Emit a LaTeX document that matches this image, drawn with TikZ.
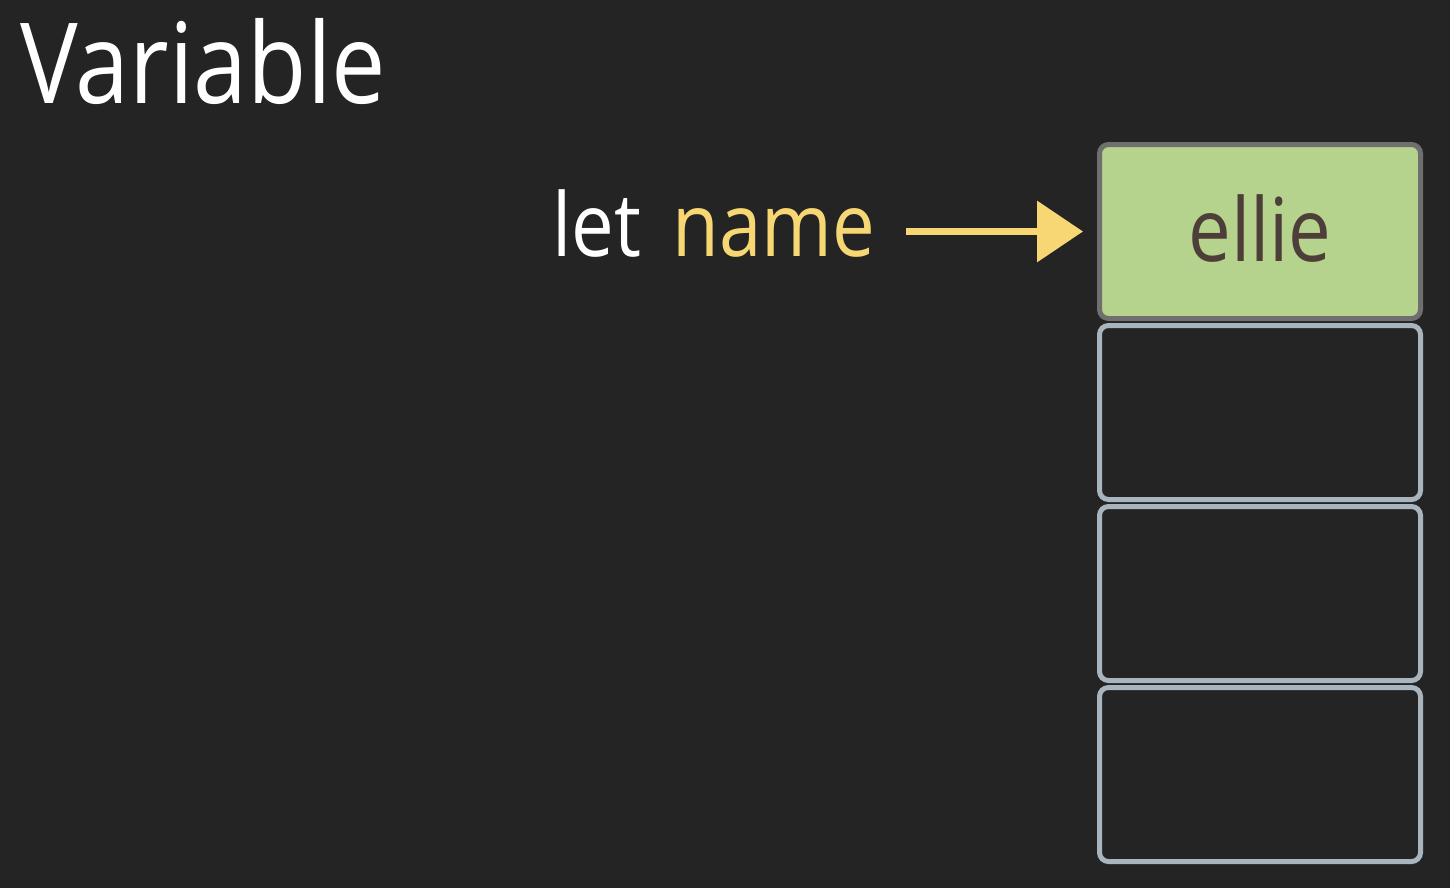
\documentclass[tikz,border=0pt]{standalone}
\usepackage{fontspec}
\setmainfont[FakeStretch=0.865]{Open Sans}
\usetikzlibrary{positioning,arrows.meta}
\definecolor{fundo}{HTML}{242424}
\definecolor{amarelo}{HTML}{F7D774}
\definecolor{verde}{HTML}{B5D38C}
\definecolor{marrom}{HTML}{4E3E39}
\definecolor{cinzaazul}{HTML}{A9B5BE}
\definecolor{cinza}{HTML}{6F6F6F}
\tikzset{
  caixa/.style={draw=cinzaazul, line width=5pt, rounded corners=9pt, minimum width=321pt, minimum height=174pt, inner sep=0pt},
  texto/.style={font=\fontsize{88}{90}\selectfont, inner sep=0pt}
}
\begin{document}
\begin{tikzpicture}[x=1pt, y=-1pt] %Início do desenho, 1 pixel = 1pt
	\useasboundingbox[fill=fundo] (0,0) rectangle (1450,888); %Fundo escuro
		%Título
	\node[anchor=base west, inner sep=0pt, text=white, font=\fontsize{112}{114}\selectfont] (titulo) at (20,103) {Variable}; %Título
		%Memória
	\node[caixa, fill=verde, draw=cinza, anchor=north west] (caixa1) at (1097,142) {}; %Primeira caixa
	\node[caixa, below=2pt of caixa1] (caixa2) {}; %Segunda caixa
	\node[caixa, below=2pt of caixa2] (caixa3) {}; %Terceira caixa
	\node[caixa, below=2pt of caixa3] (caixa4) {}; %Quarta caixa
	\node[texto, text=marrom, anchor=base] (valor) at ([yshift=-29.5pt]caixa1.center) {ellie}; %Valor guardado
		%Declaração
	\node[texto, text=white, anchor=base west] (let) at (552,256) {let}; %Palavra let
	\node[texto, text=amarelo, anchor=base west] (nome) at ([xshift=31pt]let.base east) {name}; %Nome da variável
	\draw[-{Triangle[length=46pt, width=60pt]}, line width=7pt, amarelo, shorten <=31pt, shorten >=14pt] (nome.east |- caixa1.west) -- (caixa1.west); %Seta até a caixa
\end{tikzpicture}
\end{document}
